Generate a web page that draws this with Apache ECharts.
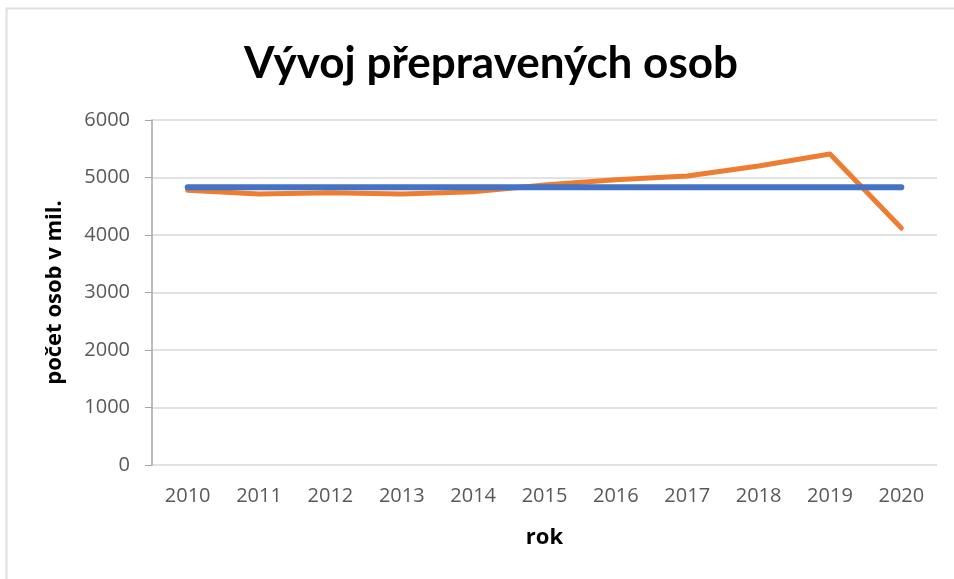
<!DOCTYPE html>
<html>
<head>
<meta charset="utf-8">
<script src="https://cdn.jsdelivr.net/npm/echarts@6/dist/echarts.min.js"></script>
<style>
  html, body { margin: 0; padding: 0; background: #fff; }
  #chart { width: 954px; height: 579px; }
</style>
</head>
<body>
<div id="chart"></div>
<script>
// roky na ose x
const years = ['2010', '2011', '2012', '2013', '2014', '2015', '2016', '2017', '2018', '2019', '2020']
// prepravene osoby v mil. (odhad z grafu)
const passengers = [4780, 4715, 4735, 4715, 4750, 4870, 4960, 5025, 5200, 5410, 4120]
// vodorovna cara (prumer)
const average = [4830, 4830, 4830, 4830, 4830, 4830, 4830, 4830, 4830, 4830, 4830]

const labelColor = '#595959'
const gridColor = '#d9d9d9'
const font = 'Open Sans'

const chart = echarts.init(document.getElementById('chart'))
chart.setOption({
  animation: false,
  title: {
    text: 'Vývoj přepravených osob',
    left: 486,
    top: 37,
    textAlign: 'center',
    textStyle: {
      fontFamily: 'Lato',
      fontWeight: 'bold',
      fontSize: 44,
      color: '#000'
    }
  },
  graphic: [
    {
      type: 'rect',
      shape: { x: 6.5, y: 8.5, width: 1000, height: 1000 },
      style: { fill: 'none', stroke: '#e0e0e0', lineWidth: 2 },
      silent: true
    }
  ],
  grid: {
    left: 152,
    right: 17,
    top: 120,
    bottom: 114
  },
  xAxis: {
    type: 'category',
    data: years,
    boundaryGap: true,
    name: 'rok',
    nameLocation: 'middle',
    nameGap: 62,
    nameTextStyle: {
      fontFamily: font,
      fontWeight: 'bold',
      fontSize: 22,
      color: '#000'
    },
    axisLine: { show: false },
    axisTick: { show: false },
    axisLabel: {
      margin: 21,
      fontFamily: font,
      fontSize: 20,
      color: labelColor
    }
  },
  yAxis: {
    type: 'value',
    min: 0,
    max: 6000,
    interval: 1000,
    name: 'počet osob v mil.',
    nameLocation: 'middle',
    nameGap: 86,
    nameTextStyle: {
      fontFamily: font,
      fontWeight: 'bold',
      fontSize: 22,
      color: '#000'
    },
    axisLine: { show: true, lineStyle: { color: '#a6a6a6', width: 1.5 } },
    axisTick: { show: true, length: 7, lineStyle: { color: '#a6a6a6' } },
    axisLabel: {
      margin: 22,
      fontFamily: font,
      fontSize: 20,
      color: labelColor,
      formatter: function (v) { return String(v) }
    },
    splitLine: { lineStyle: { color: gridColor, width: 1.5 } }
  },
  series: [
    {
      name: 'osoby',
      type: 'line',
      data: passengers,
      symbol: 'none',
      lineStyle: { color: '#ed7d31', width: 5, cap: 'round', join: 'round' },
      z: 2
    },
    {
      name: 'průměr',
      type: 'line',
      data: average,
      symbol: 'none',
      lineStyle: { color: '#4472c4', width: 6, cap: 'round' },
      z: 3
    }
  ]
})
</script>
</body>
</html>
